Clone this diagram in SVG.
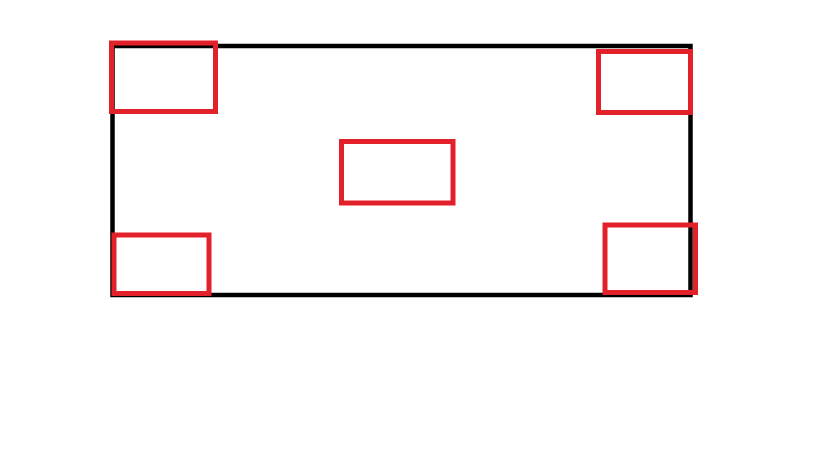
<svg xmlns="http://www.w3.org/2000/svg" width="819" height="460" viewBox="0 0 819 460">
  <style>
    .frame { fill: none; stroke: #000000; stroke-width: 4.5; }
    .box { fill: none; stroke: #e2212b; stroke-width: 5; }
  </style>
  <rect width="819" height="460" fill="#ffffff"/>
  <g id="frame">
    <rect class="frame" x="112.5" y="46" width="578" height="249"/>
  </g>
  <g id="box-top-left">
    <rect class="box" x="111.5" y="43" width="104" height="68.5"/>
  </g>
  <g id="box-top-right">
    <rect class="box" x="598.5" y="51.5" width="92" height="61"/>
  </g>
  <g id="box-center">
    <rect class="box" x="341.5" y="141.5" width="111.5" height="61.5"/>
  </g>
  <g id="box-bottom-left">
    <rect class="box" x="114" y="235" width="95" height="58.5"/>
  </g>
  <g id="box-bottom-right">
    <rect class="box" x="605" y="225" width="90.5" height="67.5"/>
  </g>
  <g id="connectors"></g>
</svg>
